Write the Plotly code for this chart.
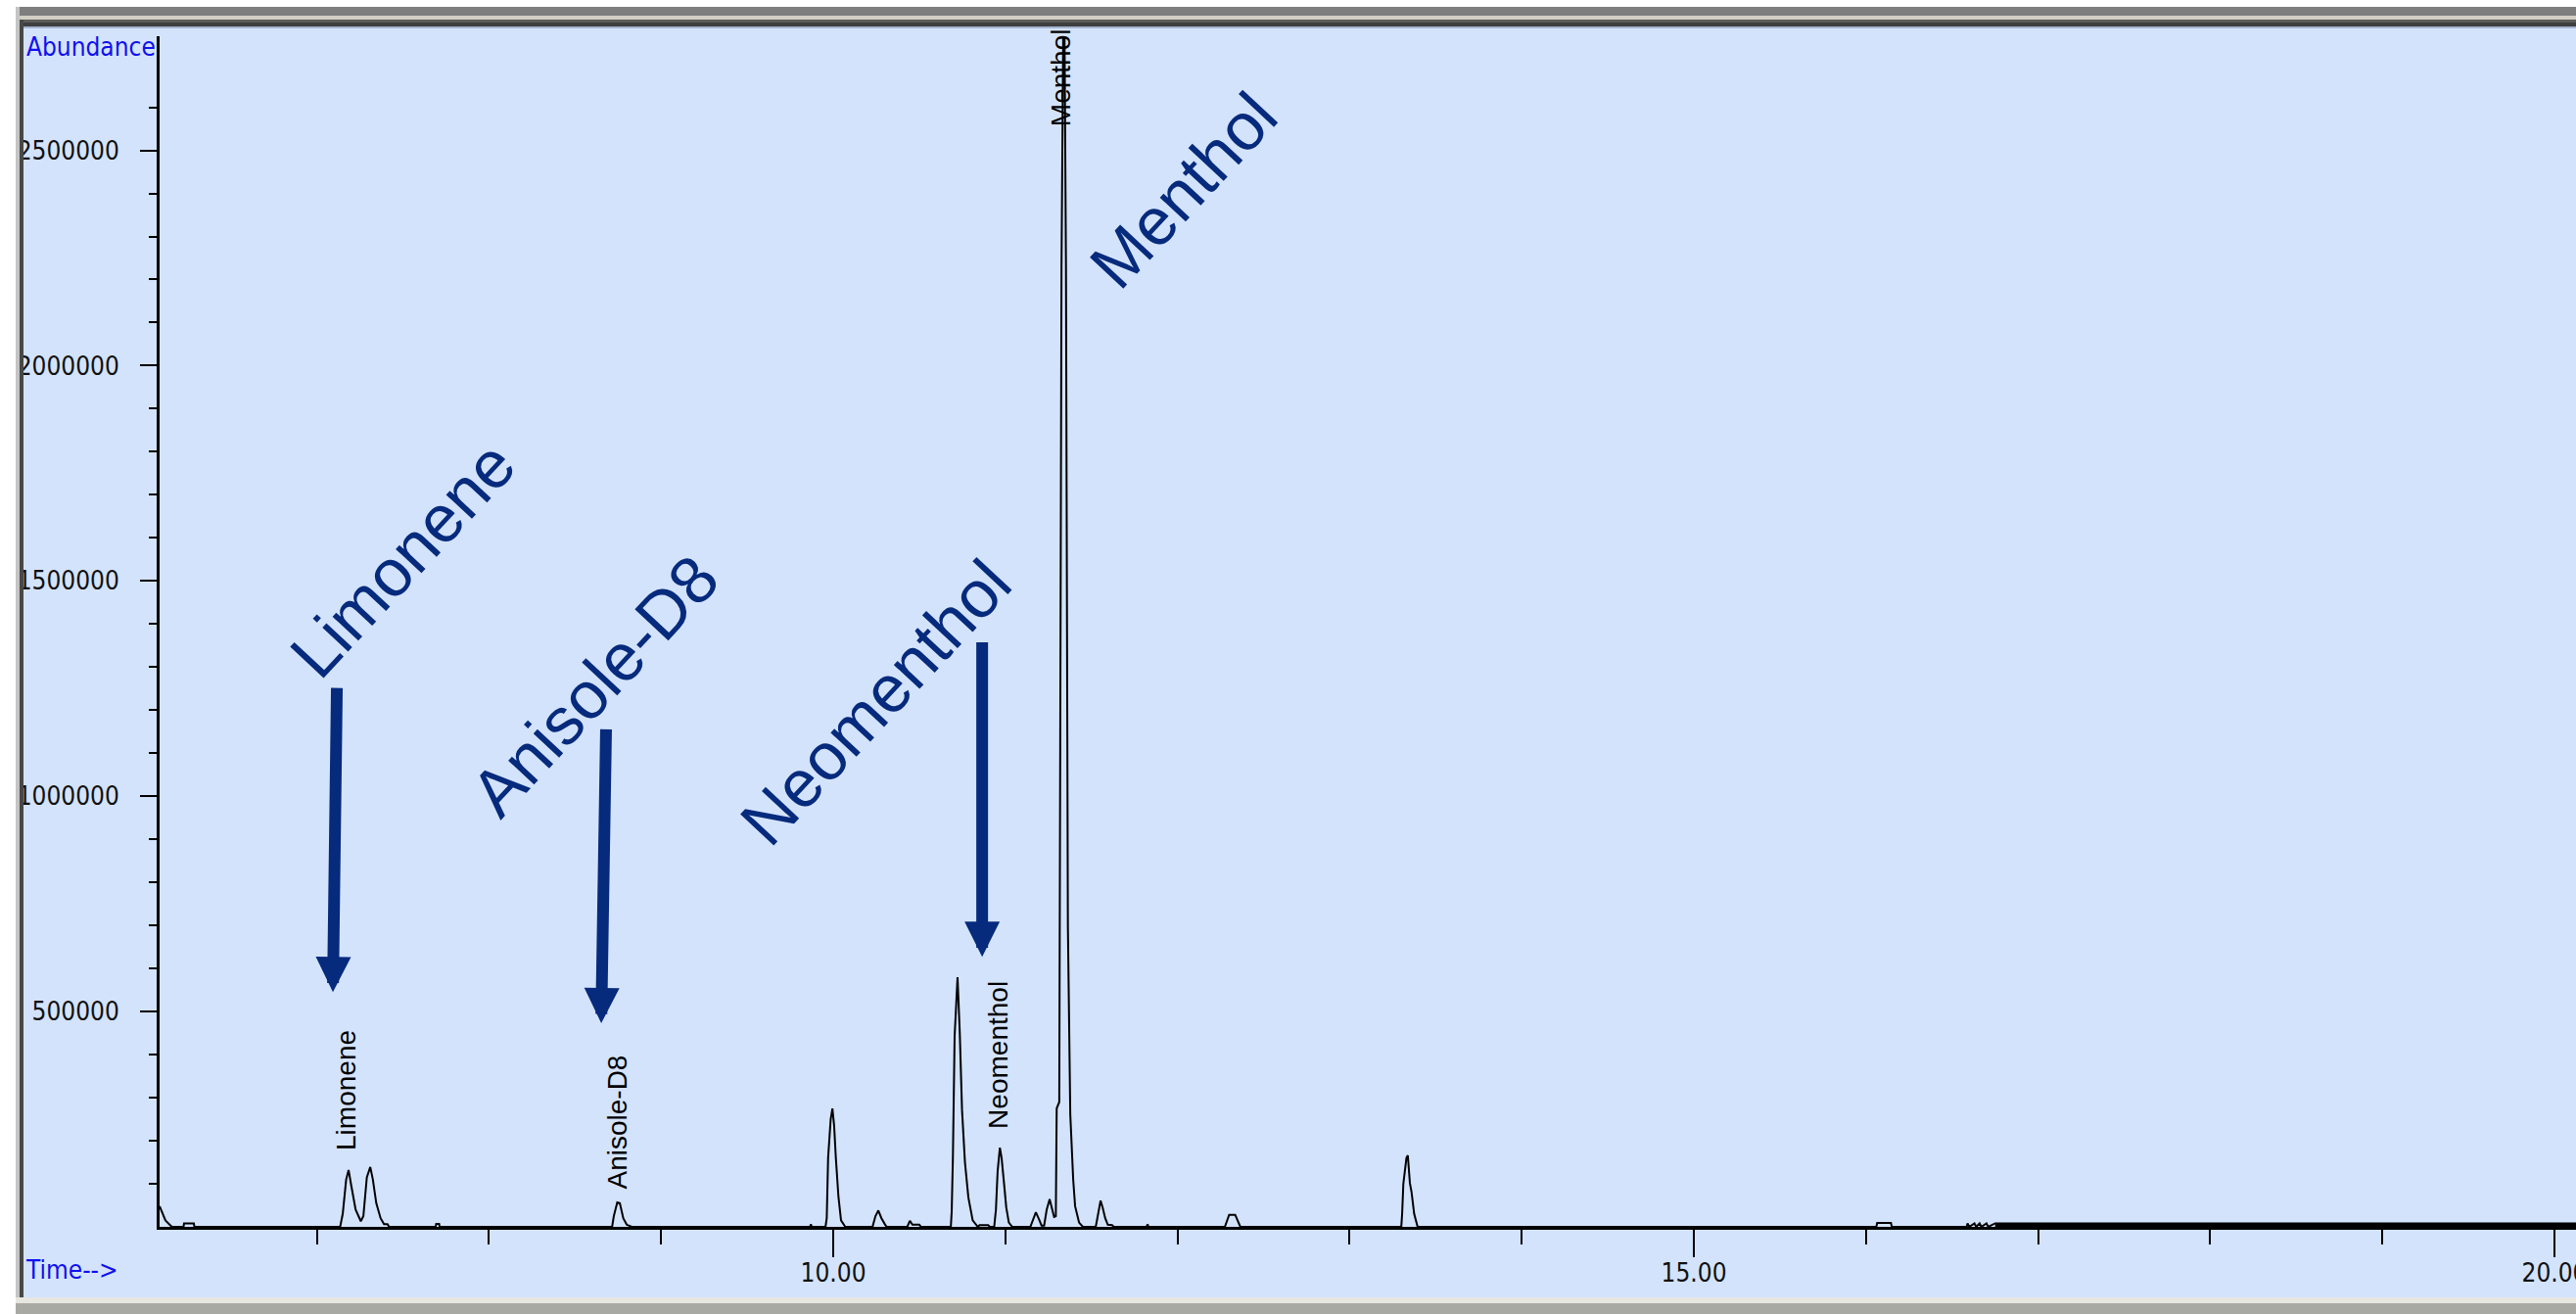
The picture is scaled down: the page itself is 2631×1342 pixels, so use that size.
import plotly.graph_objects as go

# ---------------- data ----------------
retention_time_min = [
    6.086, 6.095, 6.120, 6.150, 6.160, 6.225, 6.228, 6.285, 6.288,
    7.135, 7.150, 7.170, 7.184, 7.200, 7.225, 7.255, 7.270, 7.290, 7.310, 7.325, 7.345, 7.370, 7.390, 7.410, 7.420,
    7.690, 7.693, 7.710, 7.713,
    8.715, 8.725, 8.745, 8.760, 8.780, 8.800, 8.830,
    9.865, 9.870, 9.875,
    9.955, 9.962, 9.970, 9.985, 9.995, 10.005, 10.015, 10.030, 10.045, 10.060, 10.070,
    10.228, 10.245, 10.262, 10.280, 10.300, 10.310,
    10.430, 10.445, 10.460, 10.500, 10.510,
    10.683, 10.688, 10.695, 10.705, 10.722, 10.735, 10.748, 10.765, 10.785, 10.810, 10.830, 10.840,
    10.850, 10.900, 10.910,
    10.935, 10.945, 10.955, 10.968, 10.978, 10.990, 11.005, 11.020, 11.040,
    11.145, 11.160, 11.177, 11.195, 11.210, 11.225, 11.240, 11.257, 11.270, 11.283,
    11.293, 11.298, 11.313, 11.315, 11.326, 11.340, 11.352, 11.363, 11.365, 11.377, 11.394, 11.405, 11.428, 11.450,
    11.525, 11.535, 11.553, 11.565, 11.580, 11.595, 11.620, 11.630,
    11.820, 11.826, 11.832,
    12.275, 12.300, 12.335, 12.365,
    13.300, 13.305, 13.312, 13.330, 13.338, 13.350, 13.360, 13.375, 13.395,
    16.060, 16.065, 16.145, 16.150,
    16.585, 16.590, 16.600, 16.630, 16.640, 16.660, 16.670, 16.700, 16.710, 16.750, 20.200,
]
abundance_counts = [
    48000, 38000, 15000, 3000, 0, 0, 8000, 8000, 0,
    0, 30000, 110000, 132000, 95000, 40000, 13000, 25000, 115000, 139000, 110000, 55000, 20000, 6000, 6000, 0,
    0, 7000, 7000, 0,
    0, 25000, 57000, 55000, 20000, 5000, 0,
    0, 6000, 0,
    0, 20000, 160000, 250000, 275000, 235000, 160000, 70000, 15000, 5000, 0,
    0, 25000, 38000, 20000, 6000, 0,
    0, 14000, 5000, 5000, 0,
    0, 35000, 160000, 443000, 580000, 450000, 272000, 150000, 68000, 15000, 3000, 0,
    4000, 4000, 0,
    0, 40000, 130000, 184000, 160000, 110000, 45000, 10000, 0,
    0, 15000, 34000, 18000, 3000, 3000, 40000, 64000, 40000, 23000,
    25000, 275000, 290000, 700000, 2230000, 3000000, 2230000, 700000, 614000, 261000, 109000, 48000, 10000, 0,
    0, 25000, 61000, 45000, 20000, 5000, 4000, 0,
    0, 6000, 0,
    0, 28000, 28000, 0,
    0, 30000, 100000, 160000, 166000, 102000, 80000, 30000, 0,
    0, 9000, 9000, 0,
    0, 8000, 0, 8000, 0, 8000, 0, 8000, 0, 8000, 8000,
]

# dense baseline noise band at the end of the run
noise_band_time = [16.750, 20.200]
noise_band_abundance = [8000, 8000]

x_tick_vals = [10, 15, 20]
x_tick_text = ["10.00", "15.00", "20.00"]
y_tick_vals = [500000, 1000000, 1500000, 2000000, 2500000]
y_tick_text = ["500000", "1000000", "1500000", "2000000", "2500000"]
y_minor_vals = [100000, 200000, 300000, 400000, 600000, 700000, 800000, 900000,
                1100000, 1200000, 1300000, 1400000, 1600000, 1700000, 1800000, 1900000,
                2100000, 2200000, 2300000, 2400000, 2600000]

# small vertical peak labels from the data system
peak_label_text = ["Limonene", "Anisole-D8", "Neomenthol", "Menthol"]
peak_label_time = [7.173, 8.743, 10.961, 11.322]
peak_label_base = [172000, 82000, 222000, 2552000]

# large diagonal call-outs
callout_text = ["Limonene", "Anisole-D8", "Neomenthol", "Menthol"]
callout_time = [7.497, 8.612, 10.245, 12.031]
callout_abund = [1550000, 1257000, 1218000, 2409000]

# call-out arrows (tail -> tip)
arrow_tip_time = [7.093, 8.652, 10.865]
arrow_tip_abund = [545000, 473000, 627000]
arrow_tail_time = [7.116, 8.680, 10.865]
arrow_tail_abund = [1255000, 1159000, 1361000]

# ---------------- styling ----------------
W, H = 2631, 1342
ML, MR, MT, MB = 163, 0, 37, 89
BG = "#D3E3FC"
NAVY = "#062A7C"
BLUE = "#1010F0"
TICKFONT = "DejaVu Sans Condensed, Liberation Sans Narrow, sans-serif"
TICKSIZE = 26


def px(xp):
    return (xp - ML) / (W - ML - MR)


def py(yp):
    return (H - MB - yp) / (H - MT - MB)


fig = go.Figure()
fig.add_trace(go.Scatter(
    x=noise_band_time, y=noise_band_abundance, mode="lines",
    fill="tozeroy", fillcolor="black", line=dict(color="black", width=1),
    hoverinfo="skip", showlegend=False))
fig.add_trace(go.Scatter(
    x=retention_time_min, y=abundance_counts, mode="lines",
    line=dict(color="black", width=2), hoverinfo="skip", showlegend=False))

annotations = []
for t, tt, yy in zip(peak_label_text, peak_label_time, peak_label_base):
    annotations.append(dict(
        x=tt, y=yy, xref="x", yref="y", text=t, showarrow=False,
        textangle=-90, xanchor="center", yanchor="bottom",
        font=dict(family="Liberation Sans, Arial, sans-serif", size=28, color="black")))

for t, tt, yy in zip(callout_text, callout_time, callout_abund):
    annotations.append(dict(
        x=tt, y=yy, xref="x", yref="y", text=t, showarrow=False,
        textangle=-47, xanchor="center", yanchor="middle",
        font=dict(family="Liberation Sans, Arial, sans-serif", size=68, color=NAVY)))

for x1, y1, x0, y0 in zip(arrow_tip_time, arrow_tip_abund, arrow_tail_time, arrow_tail_abund):
    annotations.append(dict(
        x=x1, y=y1, xref="x", yref="y", ax=x0, ay=y0, axref="x", ayref="y",
        text="", showarrow=True, arrowhead=2, arrowsize=0.6, arrowwidth=12,
        arrowcolor=NAVY, standoff=0))

annotations.append(dict(
    x=px(25), y=py(31), xref="paper", yref="paper", text="Abundance",
    showarrow=False, xanchor="left", yanchor="top",
    font=dict(family=TICKFONT, size=TICKSIZE, color=BLUE)))
annotations.append(dict(
    x=px(24), y=py(1280), xref="paper", yref="paper", text="Time-->",
    showarrow=False, xanchor="left", yanchor="top",
    font=dict(family=TICKFONT, size=TICKSIZE, color=BLUE)))


def rect(x0, x1, y0, y1, color):
    return dict(type="rect", xref="paper", yref="paper",
                x0=px(x0), x1=px(x1), y0=py(y1), y1=py(y0),
                fillcolor=color, line=dict(width=0), layer="above")


shapes = [
    rect(0, W, 0, 7, "white"),
    rect(16, W, 7, 16, "#7E7E7E"),
    rect(16, W, 16, 20, "#D2CEC4"),
    rect(16, W, 20, 23, "#5C5C5C"),
    rect(16, W, 23, 27, "#3E3E3E"),
    rect(16, W, 27, 29, "#A4B4D0"),
    rect(0, 16, 0, H, "white"),
    rect(16, 20, 7, 1325, "#C4C4C4"),
    rect(20, 24, 20, 1325, "#484848"),
    rect(16, W, 1325, 1331, "#E8E6E0"),
    rect(16, W, 1331, H, "#A9A9A4"),
]

fig.update_layout(
    width=W, height=H,
    margin=dict(l=ML, r=MR, t=MT, b=MB, pad=0, autoexpand=False),
    paper_bgcolor=BG, plot_bgcolor=BG,
    showlegend=False, hovermode=False,
    annotations=annotations, shapes=shapes,
    xaxis=dict(
        range=[6.086, 20.125], showgrid=False, zeroline=False, automargin=False,
        showline=True, linecolor="black", linewidth=3,
        tickmode="array", tickvals=x_tick_vals, ticktext=x_tick_text,
        ticks="outside", ticklen=28, tickwidth=2, tickcolor="black",
        ticklabelstandoff=-6, ticklabeloverflow="allow",
        tickfont=dict(family=TICKFONT, size=TICKSIZE, color="#111111"),
        minor=dict(ticks="outside", ticklen=15, tickwidth=2, tickcolor="black",
                   dtick=1, tick0=0, showgrid=False),
    ),
    yaxis=dict(
        range=[0, 2765000], showgrid=False, zeroline=False, automargin=False,
        showline=True, linecolor="black", linewidth=3,
        tickmode="array", tickvals=y_tick_vals, ticktext=y_tick_text,
        ticks="outside", ticklen=17, tickwidth=2, tickcolor="black",
        ticklabelstandoff=16, ticklabeloverflow="allow",
        tickfont=dict(family=TICKFONT, size=TICKSIZE, color="#111111"),
        minor=dict(ticks="outside", ticklen=8, tickwidth=2, tickcolor="black",
                   tickmode="array", tickvals=y_minor_vals, showgrid=False),
    ),
)

fig.write_html(
    "out.html",
    config={"displayModeBar": False},
    post_script="document.body.style.margin='0';document.body.style.padding='0';"
                "document.documentElement.style.overflow='hidden';",
)
